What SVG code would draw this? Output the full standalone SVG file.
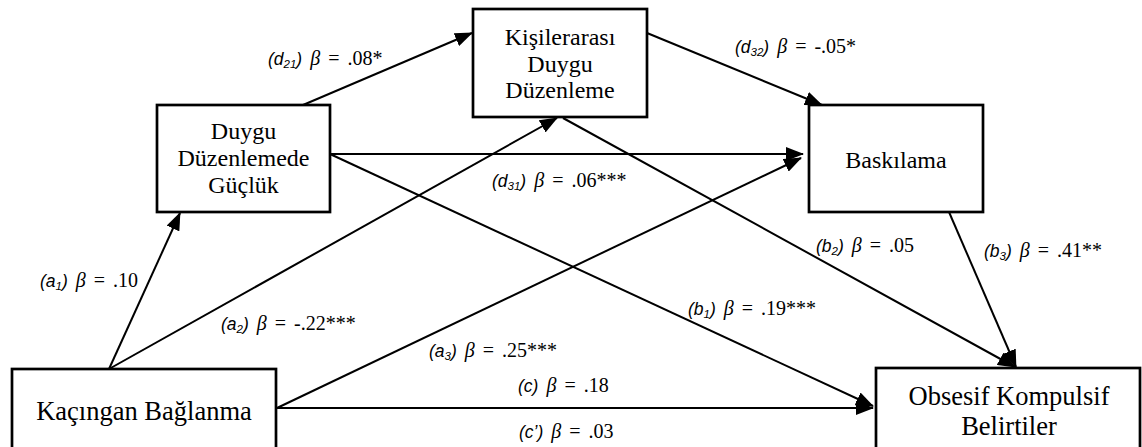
<svg xmlns="http://www.w3.org/2000/svg" width="1142" height="447" viewBox="0 0 1142 447">
<style>
.box{fill:#fff;stroke:#000;stroke-width:2.7}
.nt{font-family:"Liberation Serif","Times New Roman",serif;font-size:24px;fill:#000;text-anchor:middle}
.nb{font-family:"Liberation Serif","Times New Roman",serif;font-size:26.5px;fill:#000;text-anchor:middle}
.ln{stroke:#000;stroke-width:2;fill:none;marker-end:url(#ah)}
.lb{font-family:"Liberation Serif","Times New Roman",serif;font-size:20px;fill:#000;word-spacing:3px}
.it{font-family:"Liberation Sans",Arial,sans-serif;font-style:italic;font-size:17.5px}
.sub{font-family:"Liberation Sans",Arial,sans-serif;font-style:italic;font-size:11.5px}
.bt{font-style:italic}
</style>
<defs>
<marker id="ah" viewBox="0 0 18 14" refX="17" refY="7" markerWidth="18" markerHeight="14" markerUnits="userSpaceOnUse" orient="auto">
<path d="M0,0 L18,7 L0,14 Z" fill="#000"/>
</marker>
</defs>
<rect width="1142" height="447" fill="#fff"/>
<g id="connectors">
<line class="ln" x1="109" y1="369" x2="180" y2="213"/>
<line class="ln" x1="109" y1="369" x2="557" y2="118"/>
<line class="ln" x1="277" y1="408" x2="801" y2="158"/>
<line class="ln" x1="277" y1="408" x2="873" y2="408"/>
<line class="ln" x1="303" y1="105" x2="472" y2="33"/>
<line class="ln" x1="647" y1="33" x2="822" y2="105"/>
<line class="ln" x1="330" y1="154" x2="803" y2="154"/>
<line class="ln" x1="330" y1="154" x2="873" y2="406"/>
<line class="ln" x1="563" y1="118" x2="1015" y2="367"/>
<line class="ln" x1="949" y1="212" x2="1016" y2="367"/>
</g>
<g id="n-duygu">
<rect class="box" x="157" y="105" width="173" height="107"/>
<text class="nt" x="243.5" y="139">Duygu</text>
<text class="nt" x="243.5" y="166">Düzenlemede</text>
<text class="nt" x="243.5" y="193">Güçlük</text>
</g>
<g id="n-kisiler">
<rect class="box" x="473" y="9" width="174" height="108"/>
<text class="nt" x="560" y="45">Kişilerarası</text>
<text class="nt" x="560" y="72">Duygu</text>
<text class="nt" x="560" y="98">Düzenleme</text>
</g>
<g id="n-bask">
<rect class="box" x="809" y="105" width="174" height="107"/>
<text class="nt" x="896" y="168">Baskılama</text>
</g>
<g id="n-kacingan">
<rect class="box" x="12" y="369" width="264" height="100"/>
<text class="nb" x="144" y="420">Kaçıngan Bağlanma</text>
</g>
<g id="n-obsesif">
<rect class="box" x="876" y="368" width="264" height="100"/>
<text class="nb" x="1009" y="405">Obsesif Kompulsif</text>
<text class="nb" x="1009" y="435">Belirtiler</text>
</g>
<g id="labels">
<text class="lb" x="268" y="65"><tspan class="it">(d</tspan><tspan class="sub" dy="3">21</tspan><tspan class="it" dy="-3">)</tspan><tspan class="bt"> β</tspan> = .08*</text>
<text class="lb" x="735" y="53"><tspan class="it">(d</tspan><tspan class="sub" dy="3">32</tspan><tspan class="it" dy="-3">)</tspan><tspan class="bt"> β</tspan> = -.05*</text>
<text class="lb" x="492" y="187"><tspan class="it">(d</tspan><tspan class="sub" dy="3">31</tspan><tspan class="it" dy="-3">)</tspan><tspan class="bt"> β</tspan> = .06***</text>
<text class="lb" x="816" y="252"><tspan class="it">(b</tspan><tspan class="sub" dy="3">2</tspan><tspan class="it" dy="-3">)</tspan><tspan class="bt"> β</tspan> = .05</text>
<text class="lb" x="984" y="257"><tspan class="it">(b</tspan><tspan class="sub" dy="3">3</tspan><tspan class="it" dy="-3">)</tspan><tspan class="bt"> β</tspan> = .41**</text>
<text class="lb" x="40" y="287"><tspan class="it">(a</tspan><tspan class="sub" dy="3">1</tspan><tspan class="it" dy="-3">)</tspan><tspan class="bt"> β</tspan> = .10</text>
<text class="lb" x="221" y="330"><tspan class="it">(a</tspan><tspan class="sub" dy="3">2</tspan><tspan class="it" dy="-3">)</tspan><tspan class="bt"> β</tspan> = -.22***</text>
<text class="lb" x="429" y="357"><tspan class="it">(a</tspan><tspan class="sub" dy="3">3</tspan><tspan class="it" dy="-3">)</tspan><tspan class="bt"> β</tspan> = .25***</text>
<text class="lb" x="688" y="315"><tspan class="it">(b</tspan><tspan class="sub" dy="3">1</tspan><tspan class="it" dy="-3">)</tspan><tspan class="bt"> β</tspan> = .19***</text>
<text class="lb" x="518" y="392"><tspan class="it">(c)</tspan><tspan class="bt"> β</tspan> = .18</text>
<text class="lb" x="519" y="438"><tspan class="it">(c’)</tspan><tspan class="bt"> β</tspan> = .03</text>
</g>
</svg>
